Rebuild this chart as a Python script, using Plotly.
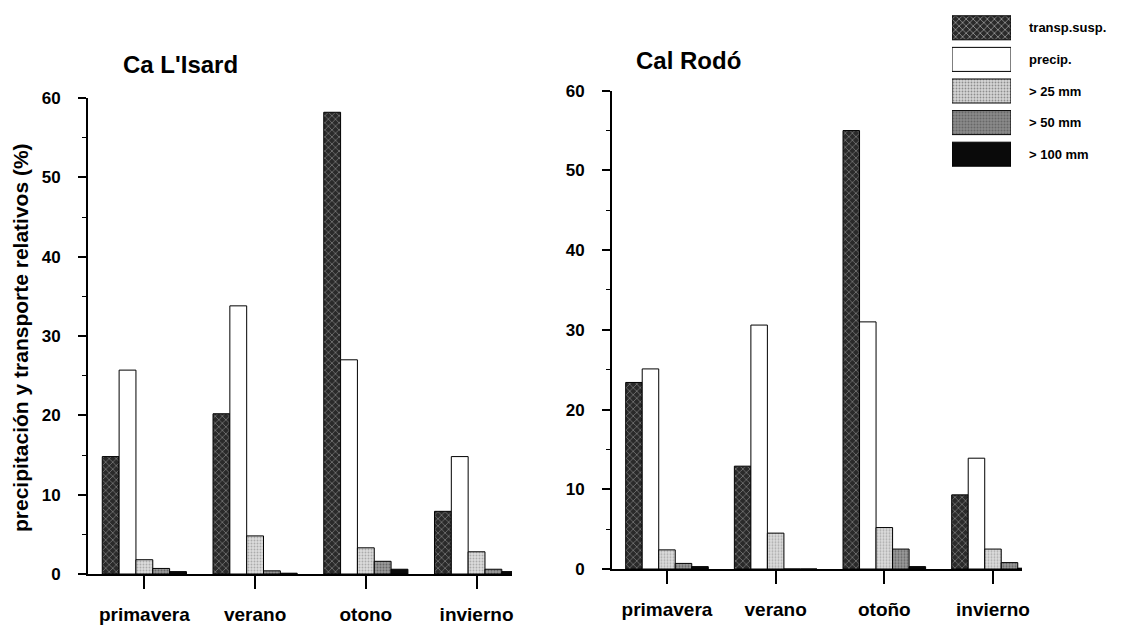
import plotly.graph_objects as go

seasons_left = ["primavera", "verano", "otono", "invierno"]
seasons_right = ["primavera", "verano", "otoño", "invierno"]
series_names = ["transp.susp.", "precip.", "> 25 mm", "> 50 mm", "> 100 mm"]

# Ca L'Isard
isard_transp = [14.8, 20.2, 58.2, 7.9]
isard_precip = [25.7, 33.8, 27.0, 14.8]
isard_gt25 = [1.8, 4.8, 3.3, 2.8]
isard_gt50 = [0.7, 0.4, 1.6, 0.6]
isard_gt100 = [0.3, 0.1, 0.6, 0.3]

# Cal Rodó
rodo_transp = [23.4, 12.9, 55.0, 9.3]
rodo_precip = [25.1, 30.6, 31.0, 13.9]
rodo_gt25 = [2.4, 4.5, 5.2, 2.5]
rodo_gt50 = [0.7, 0.0, 2.5, 0.8]
rodo_gt100 = [0.3, 0.0, 0.3, 0.1]

legend_values = [1, 1, 1, 1, 1]

FONT = "Liberation Sans"
W, H = 1126, 630

styles = [
    dict(color="#2a2a2a", pattern=dict(shape="x", fgcolor="#bdbdbd", bgcolor="#2a2a2a", size=5, solidity=0.3)),
    dict(color="white", pattern=dict(shape="")),
    dict(color="#d6d6d6", pattern=dict(shape=".", fgcolor="#7a7a7a", bgcolor="#dcdcdc", size=3, solidity=0.3)),
    dict(color="#8a8a8a", pattern=dict(shape=".", fgcolor="#333333", bgcolor="#9a9a9a", size=3, solidity=0.35)),
    dict(color="#0a0a0a", pattern=dict(shape="")),
]

fig = go.Figure()

left_data = [isard_transp, isard_precip, isard_gt25, isard_gt50, isard_gt100]
right_data = [rodo_transp, rodo_precip, rodo_gt25, rodo_gt50, rodo_gt100]

for name, vals, st in zip(series_names, left_data, styles):
    fig.add_trace(go.Bar(
        x=seasons_left, y=vals, name=name, xaxis="x", yaxis="y",
        marker=dict(color=st["color"], pattern=st["pattern"], line=dict(color="black", width=1)),
        showlegend=False,
    ))
for name, vals, st in zip(series_names, right_data, styles):
    fig.add_trace(go.Bar(
        x=seasons_right, y=vals, name=name, xaxis="x2", yaxis="y2",
        marker=dict(color=st["color"], pattern=st["pattern"], line=dict(color="black", width=1)),
        showlegend=False,
    ))

# legend drawn as a small bar panel
fig.add_trace(go.Bar(
    x=legend_values, y=series_names, orientation="h", xaxis="x3", yaxis="y3",
    marker=dict(
        color=[s["color"] for s in styles],
        pattern=dict(
            shape=["x", "", ".", ".", ""],
            fgcolor=["#bdbdbd", "#000000", "#7a7a7a", "#333333", "#000000"],
            bgcolor=["#2a2a2a", "white", "#dcdcdc", "#9a9a9a", "#0a0a0a"],
            size=[5, 5, 3, 3, 5],
            solidity=[0.3, 0.3, 0.3, 0.35, 0.3],
        ),
        line=dict(color="black", width=1),
    ),
    showlegend=False, hoverinfo="skip",
))

tickfont = dict(family=FONT, size=17, color="black", weight="bold")
catfont = dict(family=FONT, size=19, color="black", weight="bold")

def yax(domain, anchor):
    return dict(
        domain=domain, anchor=anchor, range=[0, 60], tickvals=[0, 10, 20, 30, 40, 50, 60],
        ticks="outside", ticklen=8, tickwidth=2, tickcolor="black",
        showline=True, linecolor="black", linewidth=2, showgrid=False, zeroline=False,
        tickfont=tickfont, ticklabelstandoff=14, automargin=False,
        minor=dict(dtick=5, ticks="outside", ticklen=4, tickwidth=1, tickcolor="black", showgrid=False),
    )

def xax(domain, anchor, rng):
    return dict(
        domain=domain, anchor=anchor, range=rng, type="category",
        ticks="outside", ticklen=13, tickwidth=2, tickcolor="black",
        showline=True, linecolor="black", linewidth=2, showgrid=False,
        tickfont=catfont, ticklabelstandoff=9, automargin=False,
    )

fig.update_layout(
    width=W, height=H,
    margin=dict(l=0, r=0, t=0, b=0, autoexpand=False),
    paper_bgcolor="white", plot_bgcolor="white",
    barmode="group", bargap=0.24, bargroupgap=0,
    font=dict(family=FONT, color="black"),
    xaxis=xax([88 / W, 512 / W], "y", [-0.509, 3.32]),
    yaxis=yax([1 - 574 / H, 1 - 98 / H], "x"),
    xaxis2=xax([612 / W, 1022 / W], "y2", [-0.506, 3.267]),
    yaxis2=yax([1 - 569 / H, 1 - 90.7 / H], "x2"),
    xaxis3=dict(domain=[952 / W, 1011 / W], anchor="y3", range=[0, 1], visible=False),
    yaxis3=dict(domain=[1 - 170 / H, 1 - 12 / H], anchor="x3", side="right",
                autorange="reversed", showline=False, showgrid=False, zeroline=False,
                ticks="", tickfont=dict(family=FONT, size=13, color="black", weight="bold"),
                ticklabelstandoff=17, automargin=False),
    annotations=[
        dict(text="<b>Ca L'Isard</b>", x=180 / W, y=1 - 65 / H, xref="paper", yref="paper",
             xanchor="center", yanchor="middle",
             showarrow=False, font=dict(family=FONT, size=24, color="black")),
        dict(text="<b>Cal Rodó</b>", x=688 / W, y=1 - 60 / H, xref="paper", yref="paper",
             xanchor="center", yanchor="middle",
             showarrow=False, font=dict(family=FONT, size=24, color="black")),
        dict(text="<b>precipitación y transporte relativos (%)</b>", x=20 / W, y=1 - 338 / H,
             xref="paper", yref="paper", textangle=-90, showarrow=False,
             xanchor="center", yanchor="middle",
             font=dict(family=FONT, size=21, color="black")),
    ],
)

fig.write_html("out.html")
